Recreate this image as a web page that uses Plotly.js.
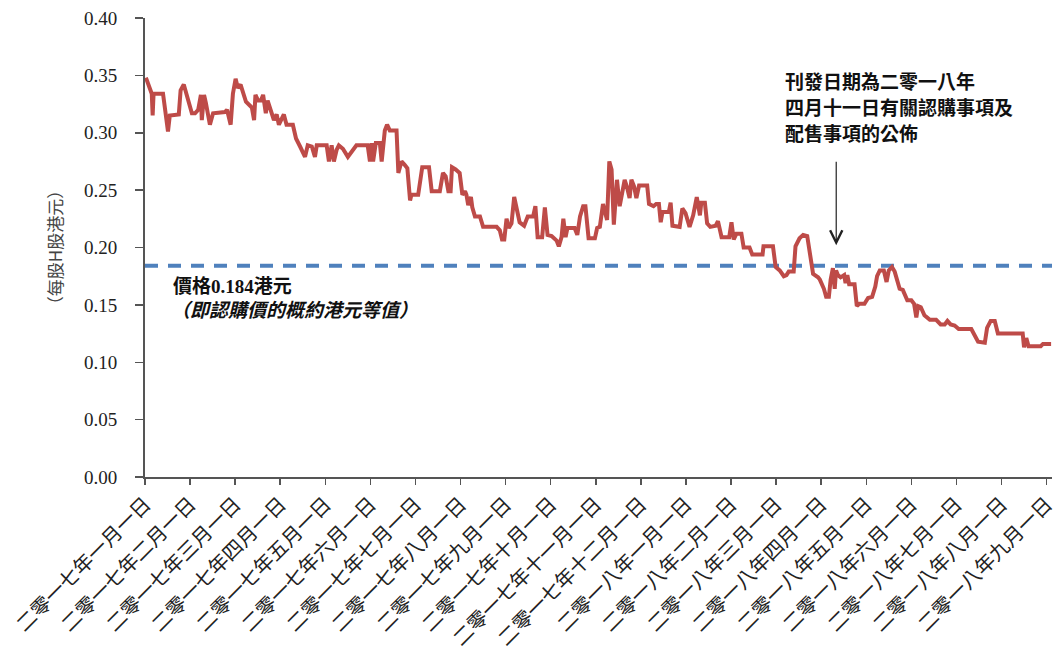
<!DOCTYPE html>
<html>
<head>
<meta charset="utf-8">
<script src="https://cdn.plot.ly/plotly-3.0.1.min.js"></script>
<style>html,body{margin:0;padding:0;background:#fff;}#chart{width:1063px;height:657px;}</style>
</head>
<body>
<div id="chart"></div>
<script>
// Month labels (tick every 1st of month, Jan 2017 .. Sep 2018)
const tickLabels = [
  "二零一七年一月一日","二零一七年二月一日","二零一七年三月一日","二零一七年四月一日",
  "二零一七年五月一日","二零一七年六月一日","二零一七年七月一日","二零一七年八月一日",
  "二零一七年九月一日","二零一七年十月一日","二零一七年十一月一日","二零一七年十二月一日",
  "二零一八年一月一日","二零一八年二月一日","二零一八年三月一日","二零一八年四月一日",
  "二零一八年五月一日","二零一八年六月一日","二零一八年七月一日","二零一八年八月一日",
  "二零一八年九月一日"
];
const tickMonths = tickLabels.map((_, i) => i);

// Time in months since 1 Jan 2017
const monthsSinceStart = [
  0.02,0.15,0.17,0.19,0.40,0.51,0.55,0.75,0.79,0.86,1.04,1.11,1.18,1.24,1.26,1.31,1.35,1.44,1.51,1.77,
  1.82,1.90,1.95,2.01,2.06,2.12,2.24,2.33,2.37,2.42,2.45,2.51,2.57,2.62,2.68,2.72,2.79,2.86,2.92,2.97,
  3.08,3.14,3.28,3.35,3.44,3.55,3.61,3.70,3.77,3.81,4.03,4.08,4.14,4.19,4.25,4.30,4.39,4.50,4.69,4.94,
  4.99,5.03,5.06,5.12,5.21,5.25,5.32,5.37,5.43,5.58,5.62,5.69,5.76,5.82,5.88,5.91,6.06,6.15,6.30,6.36,
  6.54,6.61,6.67,6.73,6.78,6.81,6.89,6.98,7.04,7.10,7.13,7.17,7.23,7.26,7.32,7.43,7.50,7.80,7.87,7.92,
  7.97,8.02,8.07,8.13,8.19,8.26,8.31,8.41,8.49,8.61,8.66,8.71,8.81,8.87,8.93,9.02,9.13,9.18,9.24,9.28,
  9.33,9.37,9.53,9.59,9.65,9.72,9.77,9.84,9.98,10.03,10.09,10.16,10.22,10.25,10.30,10.35,10.40,10.47,10.53,10.59,
  10.64,10.69,10.75,10.79,10.85,10.90,10.96,11.14,11.18,11.28,11.34,11.40,11.44,11.48,11.62,11.66,11.70,11.86,11.92,11.99,
  12.08,12.16,12.24,12.31,12.34,12.42,12.47,12.54,12.66,12.71,12.79,12.96,13.01,13.06,13.12,13.23,13.28,13.41,13.47,13.70,
  13.72,13.93,13.99,14.08,14.17,14.23,14.28,14.39,14.43,14.52,14.60,14.69,14.82,14.93,14.97,15.06,15.11,15.17,15.21,15.26,
  15.30,15.33,15.37,15.43,15.51,15.54,15.58,15.62,15.74,15.79,15.85,15.96,16.04,16.13,16.20,16.24,16.30,16.39,16.45,16.50,
  16.57,16.63,16.74,16.81,16.91,17.00,17.06,17.11,17.15,17.21,17.29,17.41,17.55,17.65,17.74,17.80,17.87,17.96,18.05,18.33,
  18.39,18.48,18.63,18.68,18.76,18.85,18.92,19.47,19.50,19.55,19.60,19.87,19.92,20.10
];

// Closing price, HK$ per H share
const closePrice = [
  0.348,0.334,0.315,0.334,0.334,0.301,0.315,0.316,0.337,0.342,0.317,0.317,0.320,0.333,0.311,0.333,0.326,0.307,0.317,0.318,
  0.320,0.307,0.334,0.347,0.339,0.342,0.327,0.324,0.322,0.311,0.333,0.328,0.328,0.333,0.317,0.328,0.320,0.311,0.316,0.307,
  0.316,0.307,0.307,0.295,0.288,0.279,0.289,0.288,0.279,0.289,0.289,0.275,0.289,0.275,0.285,0.289,0.286,0.279,0.289,0.289,
  0.275,0.291,0.275,0.291,0.291,0.275,0.302,0.307,0.302,0.302,0.265,0.275,0.272,0.269,0.241,0.246,0.246,0.270,0.270,0.249,
  0.249,0.265,0.262,0.249,0.249,0.270,0.268,0.265,0.246,0.249,0.246,0.237,0.244,0.235,0.227,0.227,0.218,0.218,0.215,0.207,
  0.207,0.225,0.217,0.221,0.244,0.233,0.222,0.219,0.227,0.227,0.236,0.209,0.209,0.235,0.211,0.210,0.206,0.201,0.209,0.225,
  0.209,0.217,0.217,0.211,0.227,0.236,0.236,0.208,0.208,0.217,0.218,0.238,0.227,0.224,0.275,0.268,0.220,0.259,0.236,0.250,
  0.259,0.253,0.243,0.259,0.253,0.243,0.254,0.254,0.238,0.236,0.238,0.238,0.222,0.231,0.231,0.239,0.219,0.218,0.234,0.230,
  0.218,0.228,0.244,0.228,0.239,0.239,0.221,0.218,0.219,0.223,0.209,0.209,0.222,0.207,0.212,0.212,0.200,0.200,0.194,0.194,
  0.201,0.201,0.183,0.180,0.175,0.176,0.179,0.179,0.201,0.208,0.211,0.210,0.177,0.174,0.172,0.164,0.157,0.157,0.172,0.182,
  0.164,0.180,0.176,0.174,0.176,0.169,0.176,0.168,0.168,0.149,0.151,0.151,0.156,0.157,0.166,0.175,0.180,0.180,0.170,0.180,
  0.183,0.179,0.164,0.163,0.154,0.154,0.151,0.139,0.149,0.148,0.141,0.137,0.137,0.133,0.133,0.136,0.133,0.132,0.129,0.129,
  0.125,0.118,0.117,0.130,0.136,0.136,0.125,0.125,0.113,0.121,0.114,0.114,0.116,0.116
];

const subscriptionPrice = 0.184;
const announcementMonth = 15 + 10 / 30; // 11 April 2018

const priceLabel1 = "價格0.184港元";
const priceLabel2 = "（即認購價的概約港元等值）";
const announceLines = ["刊發日期為二零一八年", "四月十一日有關認購事項及", "配售事項的公佈"];

const serif = "'Liberation Serif', 'Noto Sans CJK TC', serif";
const cjk = "'Noto Sans CJK TC', 'Liberation Serif', sans-serif";

const traces = [{
  type: 'scatter', mode: 'lines',
  x: monthsSinceStart, y: closePrice,
  line: {color: '#BE4B48', width: 4},
  hoverinfo: 'skip'
}];

const annotations = [
  {xref: 'paper', yref: 'paper', x: 0.029, y: 0.416, xanchor: 'left', yanchor: 'middle',
   text: '<b>' + priceLabel1 + '</b>', showarrow: false, font: {family: serif, size: 19, color: '#111'}},
  {xref: 'paper', yref: 'paper', x: 0.027, y: 0.362, xanchor: 'left', yanchor: 'middle',
   text: '<b><i>' + priceLabel2 + '</i></b>', showarrow: false, font: {family: serif, size: 19, color: '#111'}},
  {xref: 'x', yref: 'y', x: announcementMonth, y: 0.202, ax: 0, ay: -85, axref: 'pixel', ayref: 'pixel',
   text: '', showarrow: true, arrowhead: 5, arrowsize: 2, arrowwidth: 1.2, arrowcolor: '#222'}
];
announceLines.forEach((t, i) => {
  annotations.push({xref: 'paper', yref: 'paper', x: 0.703, y: [0.861, 0.802, 0.746][i],
    xanchor: 'left', yanchor: 'middle', text: '<b>' + t + '</b>', showarrow: false,
    font: {family: serif, size: 19, color: '#111'}});
});

const layout = {
  width: 1063, height: 657,
  margin: {l: 145, r: 11, t: 18, b: 180, pad: 0},
  paper_bgcolor: '#fff', plot_bgcolor: '#fff',
  showlegend: false,
  font: {family: serif, color: '#222'},
  xaxis: {
    type: 'linear', range: [0, 20.12], autorange: false,
    tickmode: 'array', tickvals: tickMonths, ticktext: tickLabels,
    tickangle: -45, ticks: 'outside', ticklen: 6, tickwidth: 1.5, tickcolor: '#555',
    showline: true, linecolor: '#555', linewidth: 1.5,
    showgrid: false, zeroline: false,
    tickfont: {family: cjk, size: 20, color: '#222'},
    automargin: false
  },
  yaxis: {
    range: [0, 0.40], autorange: false, dtick: 0.05, tick0: 0, tickformat: '.2f',
    ticks: 'outside', ticklen: 8, tickwidth: 1.5, tickcolor: '#555',
    showline: true, linecolor: '#555', linewidth: 2,
    showgrid: false, zeroline: false,
    ticklabelstandoff: 14,
    tickfont: {family: serif, size: 19, color: '#222'},
    title: {text: '（每股H股港元）', font: {family: cjk, size: 17, color: '#444'}, standoff: 17},
    automargin: false
  },
  shapes: [{
    type: 'line', xref: 'paper', yref: 'y', x0: 0, x1: 1, y0: subscriptionPrice, y1: subscriptionPrice,
    line: {color: '#4F81BD', width: 4, dash: '13px,10px'}, layer: 'below'
  }],
  annotations: annotations
};

Plotly.newPlot('chart', traces, layout, {displayModeBar: false, staticPlot: true});
</script>
</body>
</html>
